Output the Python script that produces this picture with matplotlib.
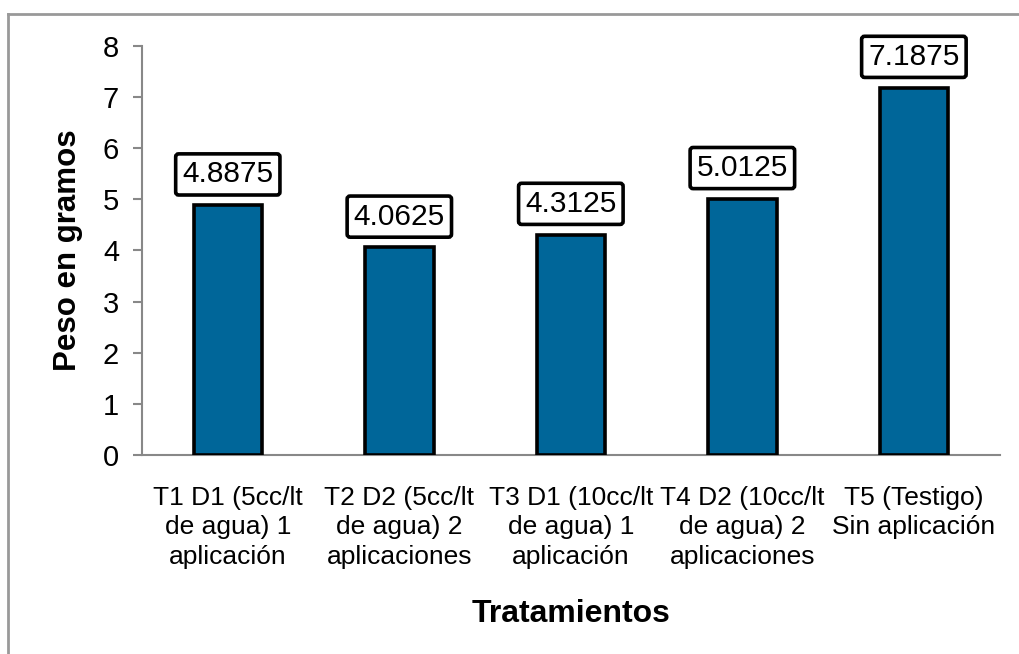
import matplotlib
matplotlib.use("Agg")
import matplotlib.pyplot as plt
from matplotlib.lines import Line2D

plt.rcParams['font.family'] = ['Liberation Sans', 'DejaVu Sans']

categorias = [
    "T1 D1 (5cc/lt\nde agua) 1\naplicación",
    "T2 D2 (5cc/lt\nde agua) 2\naplicaciones",
    "T3 D1 (10cc/lt\nde agua) 1\naplicación",
    "T4 D2 (10cc/lt\nde agua) 2\naplicaciones",
    "T5 (Testigo)\nSin aplicación",
]
peso = [4.8875, 4.0625, 4.3125, 5.0125, 7.1875]
etiquetas = ["4.8875", "4.0625", "4.3125", "5.0125", "7.1875"]

fig = plt.figure(figsize=(10.19, 6.54), dpi=100)
ax = fig.add_axes([0.1394, 0.3043, 0.8416, 0.6254])

x = range(len(categorias))
ax.bar(x, peso, width=0.40, color="#006699", edgecolor="black", linewidth=2.6, zorder=3)

for xi, v, t in zip(x, peso, etiquetas):
    ax.annotate(t, xy=(xi, v), xytext=(0, 12), textcoords="offset points",
                ha="center", va="bottom", fontsize=21.5,
                bbox=dict(boxstyle="round,pad=0.22,rounding_size=0.1",
                          facecolor="white", edgecolor="black", linewidth=2.6))

ax.set_xlim(-0.5, len(categorias) - 0.5)
ax.set_ylim(0, 8)
ax.set_yticks(range(0, 9))
ax.set_xticks(list(x))
ax.set_xticklabels(categorias, fontsize=19, linespacing=1.3)

for s in ["top", "right"]:
    ax.spines[s].set_visible(False)
for s in ["left", "bottom"]:
    ax.spines[s].set_color("#888888")
    ax.spines[s].set_linewidth(1.5)

ax.tick_params(axis="y", direction="out", length=6.5, width=1.5, color="#888888",
               labelsize=21, pad=10)
ax.tick_params(axis="x", length=0, pad=22)

ax.set_ylabel("Peso en gramos", fontsize=22.5, fontweight="bold", labelpad=14)
ax.set_xlabel("Tratamientos", fontsize=23, fontweight="bold", labelpad=22)

# chart frame (top and left edges)
fig.add_artist(Line2D([0.0079, 1.0], [0.9786, 0.9786], transform=fig.transFigure,
                      color="#999999", linewidth=2))
fig.add_artist(Line2D([0.0079, 0.0079], [0.0, 0.9786], transform=fig.transFigure,
                      color="#999999", linewidth=2))

fig.savefig("out.png", dpi=100)
